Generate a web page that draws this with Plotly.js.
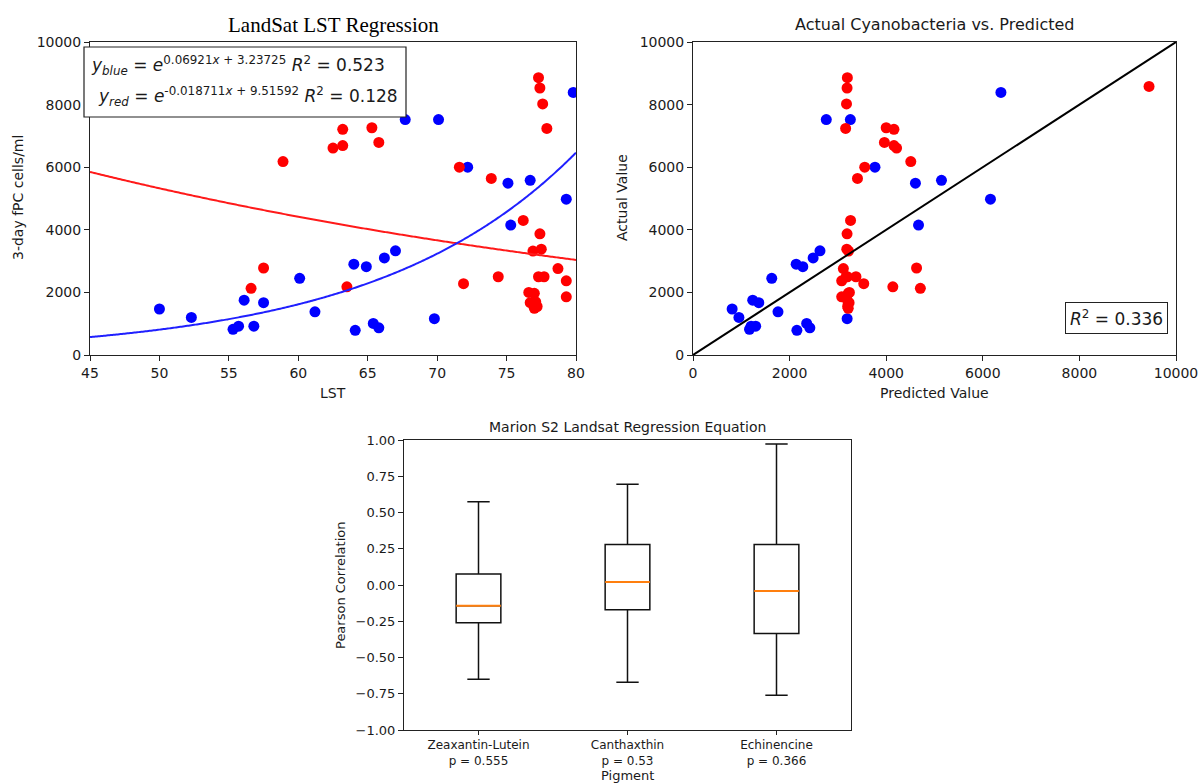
<!DOCTYPE html>
<html>
<head>
<meta charset="utf-8">
<script src="https://cdn.plot.ly/plotly-3.0.1.min.js"></script>
<style>
  html, body { margin: 0; padding: 0; background: #fff; }
  #chart { width: 1198px; height: 784px; }
</style>
</head>
<body>
<div id="chart"></div>
<script>
// ---- LST samples (blue / red groups) and 3-day fPC counts ----
const lstBlue   = [50.0, 52.3, 55.3, 55.7, 56.1, 56.8, 57.5, 60.1, 61.2, 64.0, 64.1, 64.9, 65.4,
                   65.8, 66.2, 67.0, 67.7, 69.8, 70.1, 72.2, 75.1, 75.3, 76.7, 79.3, 79.8];
const cellsBlue = [1470, 1200, 820, 920, 1750, 920, 1670, 2450, 1380, 2900, 790, 2820, 1010,
                   870, 3100, 3330, 7520, 1160, 7520, 6000, 5490, 4150, 5580, 4980, 8390];

const lstRed   = [19.4, 56.6, 57.5, 58.9, 62.5, 63.2, 63.2, 63.5, 65.3, 65.8, 71.6, 71.9, 73.9,
                  74.4, 76.2, 77.3, 77.4, 77.6, 77.9, 77.4, 76.9, 77.5, 77.3, 77.7, 78.7, 79.3,
                  79.3, 76.6, 77.0, 76.7, 77.1, 77.0, 77.2];
const cellsRed = [8580, 2130, 2780, 6180, 6610, 6690, 7210, 2180, 7260, 6790, 6000, 2280, 5640,
                  2500, 4300, 8860, 8530, 8020, 7240, 3870, 3320, 3380, 2500, 2500, 2760, 2370,
                  1860, 2000, 1970, 1670, 1700, 1490, 1550];

// exponential fits y = e^(a*x + b)
const fitBlue = { a: 0.06921, b: 3.23725, r2: 0.523 };
const fitRed  = { a: -0.018711, b: 9.51592, r2: 0.128 };
const r2Predicted = 0.336;

// ---- Pearson correlation box summaries per pigment ----
const pigments   = ["Zeaxantin-Lutein", "Canthaxthin", "Echinencine"];
const pValues    = ["0.555", "0.53", "0.366"];
const whiskerLow = [-0.65, -0.67, -0.76];
const q1         = [-0.26, -0.17, -0.335];
const medians    = [-0.143, 0.021, -0.042];
const q3         = [0.076, 0.279, 0.279];
const whiskerHigh= [0.575, 0.695, 0.972];

const countTicks = [0, 2000, 4000, 6000, 8000, 10000];
const lstTicks   = [45, 50, 55, 60, 65, 70, 75, 80];
const corrTicks  = [-1, -0.75, -0.5, -0.25, 0, 0.25, 0.5, 0.75, 1];

// ---- helpers ----
const W = 1198, H = 784;
const px = v => v / W;
const py = v => 1 - v / H;
const predict = (f, x) => Math.exp(f.a * x + f.b);

const lstGrid = [];
for (let i = 0; i <= 350; i++) lstGrid.push(45 + i * 0.1);

const FONT = "DejaVu Sans, sans-serif";
const TXT = "#1a1a1a";

const boxPos = pigments.map((_, i) => i + 1);
const boxW = 0.3;
const medX = [], medY = [];
boxPos.forEach((p, i) => {
  medX.push(p - boxW / 2, p + boxW / 2, null);
  medY.push(medians[i], medians[i], null);
});

const marker = c => ({ color: c, size: 11, line: { width: 0 } });

const traces = [
  // LST regression scatter
  { x: lstBlue, y: cellsBlue, type: "scatter", mode: "markers", marker: marker("#0000ff"),
    xaxis: "x", yaxis: "y" },
  { x: lstRed, y: cellsRed, type: "scatter", mode: "markers", marker: marker("#ff0000"),
    xaxis: "x", yaxis: "y" },
  { x: lstGrid, y: lstGrid.map(x => predict(fitRed, x)), type: "scatter", mode: "lines",
    line: { color: "#ff1a1a", width: 2, simplify: false }, xaxis: "x", yaxis: "y" },
  { x: lstGrid, y: lstGrid.map(x => predict(fitBlue, x)), type: "scatter", mode: "lines",
    line: { color: "#2020ff", width: 2, simplify: false }, xaxis: "x", yaxis: "y" },

  // predicted vs actual
  { x: lstBlue.map(x => predict(fitBlue, x)), y: cellsBlue, type: "scatter", mode: "markers",
    marker: marker("#0000ff"), xaxis: "x2", yaxis: "y2" },
  { x: lstRed.map(x => predict(fitRed, x)), y: cellsRed, type: "scatter", mode: "markers",
    marker: marker("#ff0000"), xaxis: "x2", yaxis: "y2" },
  { x: [0, 10000], y: [0, 10000], type: "scatter", mode: "lines",
    line: { color: "#000", width: 2 }, xaxis: "x2", yaxis: "y2" },

  // pigment correlation boxes
  { type: "box", x: boxPos, q1: q1, median: medians, q3: q3,
    lowerfence: whiskerLow, upperfence: whiskerHigh,
    width: boxW, whiskerwidth: 0.5, boxpoints: false,
    fillcolor: "rgba(255,255,255,0)", line: { color: "#111", width: 1.5 },
    xaxis: "x3", yaxis: "y3" },
  { x: medX, y: medY, type: "scatter", mode: "lines",
    line: { color: "#ff7f0e", width: 2 }, xaxis: "x3", yaxis: "y3" }
];

const axisBase = {
  showgrid: false, zeroline: false, showline: true, mirror: true,
  linecolor: "#222", linewidth: 1, ticks: "outside", ticklen: 5, tickwidth: 1,
  tickcolor: "#222", tickfont: { family: FONT, size: 14, color: TXT },
  ticklabeloverflow: "allow"
};

const sup = t => `<sup>${t}</sup>`;
const eqLine = (name, f) =>
  `<i>y</i><sub><i>${name}</i></sub> = <i>e</i>` +
  sup(`${f.a}<i>x</i> + ${f.b}`) + ` <i>R</i>${sup("2")} = ${f.r2.toFixed(3)}`;

const label = (text, x, y, size, extra) => Object.assign({
  text: text, xref: "paper", yref: "paper", x: px(x), y: py(y),
  xanchor: "center", yanchor: "middle", showarrow: false,
  font: { family: FONT, size: size, color: TXT }
}, extra || {});

const layout = {
  width: W, height: H,
  margin: { l: 0, r: 0, t: 0, b: 0 },
  paper_bgcolor: "#fff", plot_bgcolor: "#fff",
  showlegend: false,
  xaxis: Object.assign({}, axisBase, { domain: [px(90), px(576)], range: [45, 80],
    tickvals: lstTicks, anchor: "y" }),
  yaxis: Object.assign({}, axisBase, { domain: [py(355), py(42)], range: [0, 10000],
    tickvals: countTicks, ticktext: countTicks.map(String), anchor: "x" }),
  xaxis2: Object.assign({}, axisBase, { domain: [px(693), px(1176)], range: [0, 10000],
    tickvals: countTicks, ticktext: countTicks.map(String), anchor: "y2" }),
  yaxis2: Object.assign({}, axisBase, { domain: [py(355), py(42)], range: [0, 10000],
    tickvals: countTicks, ticktext: countTicks.map(String), anchor: "x2" }),
  xaxis3: Object.assign({}, axisBase, { domain: [px(404), px(851)], range: [0.5, 3.5],
    tickvals: boxPos, ticktext: pigments.map((p, i) => `${p}<br>p = ${pValues[i]}`),
    ticklen: 4, tickfont: { family: FONT, size: 12, color: TXT }, anchor: "y3" }),
  yaxis3: Object.assign({}, axisBase, { domain: [py(730), py(440)], range: [-1, 1],
    tickvals: corrTicks, tickformat: ".2f",
    tickfont: { family: FONT, size: 13, color: TXT }, anchor: "x3" }),
  shapes: [
    // frame behind the fit equations
    { type: "rect", xref: "paper", yref: "paper", layer: "above",
      x0: px(84), x1: px(406), y0: py(117), y1: py(47),
      fillcolor: "#fff", line: { color: "#222", width: 1.2 } }
  ],
  annotations: [
    label("LandSat LST Regression", 333, 25, 21,
      { font: { family: "Liberation Serif, Times New Roman, serif", size: 21, color: "#000" } }),
    label("3-day fPC cells/ml", 18, 198, 14, { textangle: -90 }),
    label("LST", 333, 393, 14),
    label(eqLine("blue", fitBlue), 238, 66, 17),
    label(eqLine("red", fitRed), 248, 96, 17),

    label("Actual Cyanobacteria vs. Predicted", 934, 25, 16),
    label("Actual Value", 622, 198, 14, { textangle: -90 }),
    label("Predicted Value", 934, 393, 14),
    label(`<i>R</i>${sup("2")} = ${r2Predicted.toFixed(3)}`, 1116, 318, 17,
      { bgcolor: "#fff", bordercolor: "#222", borderwidth: 1, borderpad: 4 }),

    label("Marion S2 Landsat Regression Equation", 627, 427, 14),
    label("Pearson Correlation", 340, 585, 13, { textangle: -90 }),
    label("Pigment", 627, 775, 13)
  ]
};

Plotly.newPlot("chart", traces, layout, { staticPlot: true, displayModeBar: false });
</script>
</body>
</html>
